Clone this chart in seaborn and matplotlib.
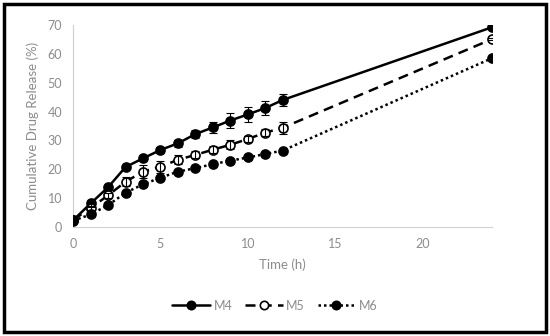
import numpy as np
import pandas as pd
import seaborn as sns
import matplotlib.pyplot as plt
from matplotlib.lines import Line2D
from matplotlib.patches import Rectangle

time_h = [0, 1, 2, 3, 4, 5, 6, 7, 8, 9, 10, 11, 12, 24]

m4 = [2.4, 8.2, 13.8, 20.8, 23.8, 26.7, 29.0, 32.2, 34.5, 36.9, 39.0, 41.2, 44.0, 69.2]
m5 = [2.5, 6.6, 11.0, 15.7, 19.2, 20.9, 23.3, 25.0, 26.8, 28.5, 30.5, 32.7, 34.4, 65.1]
m6 = [2.2, 4.4, 7.6, 11.9, 14.8, 17.1, 19.2, 20.4, 21.8, 23.0, 24.1, 25.3, 26.5, 58.5]

m4_err = [0.5, 0.8, 0.8, 0.8, 0.8, 1.0, 1.3, 1.5, 2.0, 2.5, 2.5, 2.5, 2.0, 0.5]
m5_err = [0.5, 0.5, 0.8, 1.5, 2.2, 2.0, 1.5, 1.2, 1.2, 1.5, 1.2, 1.2, 2.0, 0.5]
m6_err = [0.3, 0.4, 0.4, 0.5, 0.5, 0.5, 0.5, 0.5, 0.5, 0.5, 0.5, 0.5, 0.5, 0.5]

series = ["M4", "M5", "M6"]

df = pd.DataFrame({
    "time": time_h * 3,
    "release": m4 + m5 + m6,
    "err": m4_err + m5_err + m6_err,
    "series": [s for s in series for _ in time_h],
})

sns.set_style("white")
plt.rcParams["font.family"] = ["Lato", "DejaVu Sans"]

grey = "#8c8c8c"
styles = {
    "M4": dict(dashes=None, mfc="black"),
    "M5": dict(dashes=(4, 2.5), mfc="white"),
    "M6": dict(dashes=(1, 1.2), mfc="black"),
}

fig = plt.figure(figsize=(5.5, 3.36), dpi=100)
ax = fig.add_axes([0.133, 0.324, 0.762, 0.602])

for s in series:
    d = df[df["series"] == s]
    st = styles[s]
    sns.lineplot(data=d, x="time", y="release", ax=ax, color="black",
                 linewidth=1.8, marker="o", markersize=6.5,
                 markerfacecolor=st["mfc"], markeredgecolor="black",
                 markeredgewidth=1.2, zorder=3)
    ln = ax.lines[-1]
    if st["dashes"] is not None:
        ln.set_dashes(st["dashes"])
    ax.errorbar(d["time"], d["release"], yerr=d["err"], fmt="none",
                ecolor="black", elinewidth=0.8, capsize=3, capthick=0.8, zorder=4)

ax.set_xlim(0, 24)
ax.set_ylim(0, 70)
ax.set_xticks([0, 5, 10, 15, 20])
ax.set_yticks(range(0, 71, 10))
ax.tick_params(axis="both", length=0, labelsize=9, colors=grey, pad=8)
ax.set_xlabel("Time (h)", fontsize=9.5, color=grey, labelpad=6)
ax.set_ylabel("Cumulative Drug Release (%)", fontsize=9.5, color=grey, labelpad=6)

for side in ["top", "right"]:
    ax.spines[side].set_visible(False)
for side in ["left", "bottom"]:
    ax.spines[side].set_color("#d0d0d0")
    ax.spines[side].set_linewidth(0.8)

handles = []
for s in series:
    st = styles[s]
    h = Line2D([0], [0], color="black", linewidth=1.8, marker="o", markersize=6,
               markerfacecolor=st["mfc"], markeredgecolor="black", markeredgewidth=1.2)
    if st["dashes"] is not None:
        h.set_dashes(st["dashes"])
    handles.append(h)
leg = fig.legend(handles, series, loc="center", bbox_to_anchor=(0.5, 0.09), ncol=3,
                 frameon=False, fontsize=9, handlelength=3.0, columnspacing=1.0,
                 handletextpad=0.3)
for t in leg.get_texts():
    t.set_color(grey)

fig.patches.append(Rectangle((0.008, 0.012), 0.984, 0.976, transform=fig.transFigure,
                             fill=False, edgecolor="black", linewidth=2.5))

fig.savefig("out.png", dpi=100)
